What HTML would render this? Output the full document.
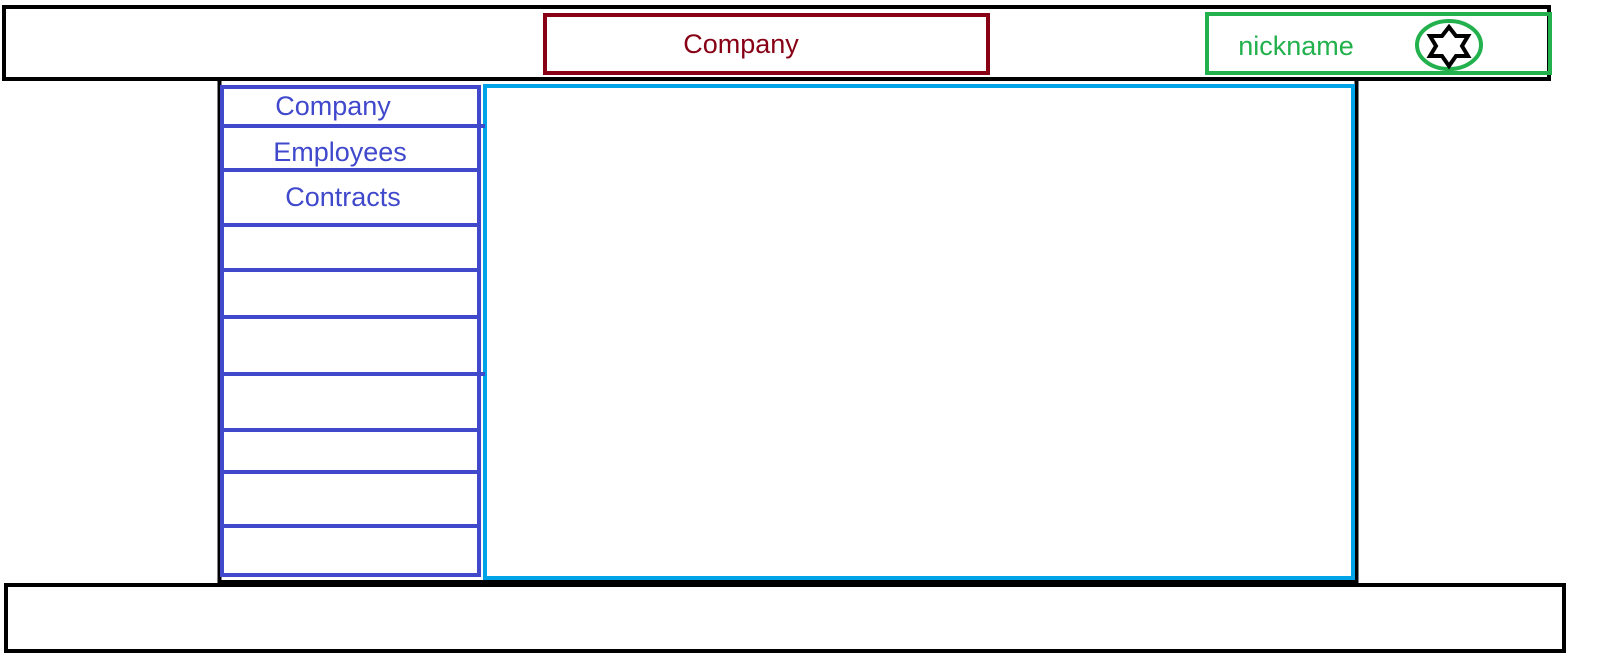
<!DOCTYPE html>
<html><head><style>html,body{margin:0;padding:0;background:#fff;width:1597px;height:667px;overflow:hidden}svg{display:block}</style></head><body>
<svg width="1597" height="667" viewBox="0 0 1597 667" xmlns="http://www.w3.org/2000/svg" font-family="Liberation Sans, sans-serif">
<rect x="219.5" y="79" width="1137" height="503" fill="none" stroke="#000" stroke-width="4"/>
<rect x="4" y="7" width="1545" height="72" fill="#fff" stroke="#000" stroke-width="4"/>
<rect x="545" y="15" width="443" height="58" fill="none" stroke="#880015" stroke-width="4"/>
<text x="741" y="53" font-size="27" fill="#880015" text-anchor="middle">Company</text>
<rect x="1207" y="14" width="343" height="59" fill="none" stroke="#22b14c" stroke-width="4"/>
<text x="1296" y="55" font-size="27" fill="#22b14c" text-anchor="middle">nickname</text>
<ellipse cx="1449" cy="45" rx="32" ry="24" fill="none" stroke="#22b14c" stroke-width="4"/>
<polygon points="1449,27 1456,36 1468,36 1462,46 1468,56 1456,56 1449,66 1442,56 1430,56 1436,46 1430,36 1442,36" fill="none" stroke="#000" stroke-width="4"/>
<rect x="485" y="86" width="868" height="492" fill="#fff" stroke="#00a2e8" stroke-width="4"/>
<rect x="222" y="87" width="257" height="488" fill="#fff" stroke="#4048cc" stroke-width="4"/>
<g stroke="#4048cc" stroke-width="4">
<line x1="222" y1="126" x2="485" y2="126"/>
<line x1="222" y1="170" x2="479" y2="170"/>
<line x1="222" y1="225" x2="479" y2="225"/>
<line x1="222" y1="270" x2="479" y2="270"/>
<line x1="222" y1="317" x2="479" y2="317"/>
<line x1="222" y1="374" x2="485" y2="374"/>
<line x1="222" y1="430" x2="479" y2="430"/>
<line x1="222" y1="472" x2="479" y2="472"/>
<line x1="222" y1="526" x2="479" y2="526"/>
</g>
<g font-size="27" fill="#4048cc" text-anchor="middle">
<text x="333" y="115">Company</text>
<text x="340" y="161">Employees</text>
<text x="343" y="206">Contracts</text>
</g>
<rect x="6" y="585" width="1558" height="66" fill="#fff" stroke="#000" stroke-width="4"/>
</svg>
</body></html>
